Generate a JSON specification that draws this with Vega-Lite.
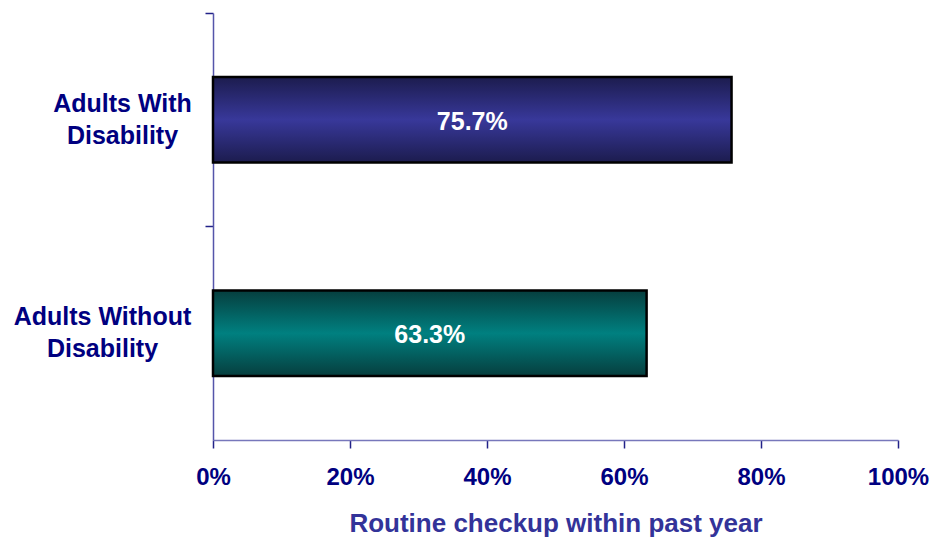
{
  "$schema": "https://vega.github.io/schema/vega-lite/v6.json",
  "autosize": "none",
  "width": 685,
  "height": 427,
  "padding": {"left": 213, "top": 13, "right": 38, "bottom": 100},
  "background": "white",
  "config": {"view": {"stroke": null}, "font": "Liberation Sans"},
  "data": {"values": [
    {"group": "Adults With Disability", "value": 75.7},
    {"group": "Adults Without Disability", "value": 63.3}
  ]},
  "encoding": {
    "y": {
      "field": "group", "type": "nominal", "sort": null,
      "scale": {"paddingInner": 0, "paddingOuter": 0},
      "axis": {
        "title": null,
        "bandPosition": 0,
        "domainColor": "#5555aa", "domainWidth": 1.5,
        "tickColor": "#222288", "tickSize": 8, "tickWidth": 1.5,
        "labelExpr": "datum.value == 'Adults With Disability' ? ['Adults With', 'Disability'] : ['Adults Without', 'Disability']",
        "labelAlign": "center", "labelBaseline": "middle", "labelOffset": -16,
        "labelPadding": {"condition": {"test": "datum.value == 'Adults With Disability'", "value": 83}, "value": 103},
        "labelFont": "Liberation Sans", "labelFontSize": 25, "labelFontWeight": "bold",
        "labelColor": "#000080", "labelLineHeight": 32, "labelLimit": 300
      }
    }
  },
  "layer": [
    {
      "transform": [{"filter": "datum.group == 'Adults With Disability'"}],
      "mark": {
        "type": "bar", "height": {"band": 0.4}, "stroke": "#000000", "strokeWidth": 2.5,
        "fill": {"gradient": "linear", "x1": 0, "y1": 0, "x2": 0, "y2": 1, "stops": [
          {"offset": 0, "color": "#1c1c4e"},
          {"offset": 0.5, "color": "#38389a"},
          {"offset": 1, "color": "#1c1c4e"}
        ]}
      },
      "encoding": {
        "x": {
          "field": "value", "type": "quantitative",
          "scale": {"domain": [0, 100]},
          "axis": {
            "values": [0, 20, 40, 60, 80, 100],
            "labelExpr": "datum.value + '%'",
            "grid": false,
            "domainColor": "#7777bb", "domainWidth": 1.5,
            "tickColor": "#222288", "tickSize": 8, "tickWidth": 1.5,
            "labelFont": "Liberation Sans", "labelFontSize": 24, "labelFontWeight": "bold",
            "labelColor": "#000080", "labelPadding": 17, "labelFlush": false,
            "title": "Routine checkup within past year",
            "titleFont": "Liberation Sans", "titleFontSize": 26, "titleFontWeight": "bold",
            "titleColor": "#333399", "titlePadding": 21
          }
        }
      }
    },
    {
      "transform": [{"filter": "datum.group == 'Adults Without Disability'"}],
      "mark": {
        "type": "bar", "height": {"band": 0.4}, "stroke": "#000000", "strokeWidth": 2.5,
        "fill": {"gradient": "linear", "x1": 0, "y1": 0, "x2": 0, "y2": 1, "stops": [
          {"offset": 0, "color": "#063e3e"},
          {"offset": 0.5, "color": "#008080"},
          {"offset": 1, "color": "#063e3e"}
        ]}
      },
      "encoding": {
        "x": {"field": "value", "type": "quantitative"}
      }
    },
    {
      "transform": [
        {"calculate": "datum.value / 2", "as": "mid"},
        {"calculate": "format(datum.value, '.1f') + '%'", "as": "label"}
      ],
      "mark": {"type": "text", "color": "white", "font": "Liberation Sans", "fontSize": 25, "fontWeight": "bold", "baseline": "middle", "align": "center", "dy": 2},
      "encoding": {
        "x": {"field": "mid", "type": "quantitative"},
        "text": {"field": "label", "type": "nominal"}
      }
    }
  ]
}
